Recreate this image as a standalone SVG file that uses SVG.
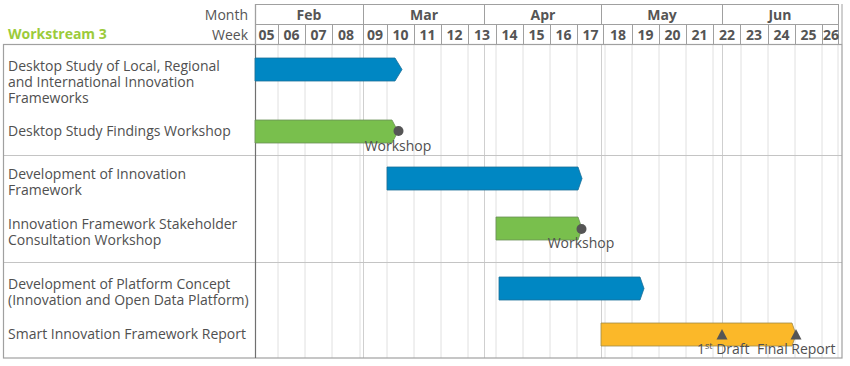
<svg xmlns="http://www.w3.org/2000/svg" width="850" height="366" viewBox="0 0 850 366">
<style>
text{font-family:"Open Sans","Noto Sans","DejaVu Sans",sans-serif;font-size:14px;fill:#505050}
.hdr{font-weight:bold;fill:#555;text-anchor:middle}
.cap{text-anchor:end;fill:#555}
.ms{text-anchor:middle;fill:#505050}
.wk{stroke:#e0e0e0;stroke-width:1}
.mo{stroke:#cfcfcf;stroke-width:1}
.hl{stroke:#a0a0a0;stroke-width:1;fill:none}
.sep{stroke:#c4c4c4;stroke-width:1.2}
.blue{fill:#0087c3;stroke:#1a6f98;stroke-width:0.8}
.green{fill:#79bf4d;stroke:#6b8f55;stroke-width:0.8}
.yellow{fill:#fbb829;stroke:#a08a4a;stroke-width:0.8}
.dot{fill:#555}
</style>
<rect width="850" height="366" fill="#fff"/>
<g id="grid">
<g class="wk">
<line x1="278" y1="44" x2="278" y2="358"/><line x1="305" y1="44" x2="305" y2="358"/><line x1="332" y1="44" x2="332" y2="358"/><line x1="360" y1="44" x2="360" y2="358"/><line x1="387" y1="44" x2="387" y2="358"/><line x1="414" y1="44" x2="414" y2="358"/><line x1="441" y1="44" x2="441" y2="358"/><line x1="468" y1="44" x2="468" y2="358"/><line x1="496" y1="44" x2="496" y2="358"/><line x1="523" y1="44" x2="523" y2="358"/><line x1="550" y1="44" x2="550" y2="358"/><line x1="577" y1="44" x2="577" y2="358"/><line x1="605" y1="44" x2="605" y2="358"/><line x1="632" y1="44" x2="632" y2="358"/><line x1="659" y1="44" x2="659" y2="358"/><line x1="686" y1="44" x2="686" y2="358"/><line x1="713" y1="44" x2="713" y2="358"/><line x1="741" y1="44" x2="741" y2="358"/><line x1="768" y1="44" x2="768" y2="358"/><line x1="795" y1="44" x2="795" y2="358"/><line x1="822" y1="44" x2="822" y2="358"/><line x1="838" y1="44" x2="838" y2="358"/>
</g>
<g class="mo">
<line x1="363.5" y1="44" x2="363.5" y2="358"/><line x1="484.5" y1="44" x2="484.5" y2="358"/><line x1="601.5" y1="44" x2="601.5" y2="358"/><line x1="722.5" y1="44" x2="722.5" y2="358"/>
</g>
<line class="sep" x1="3" y1="155.5" x2="842" y2="155.5"/>
<line class="sep" x1="3" y1="262.5" x2="842" y2="262.5"/>
<rect x="3.5" y="44.5" width="838.5" height="313.5" fill="none" stroke="#a0a0a0" stroke-width="1.2"/>
<line x1="255.5" y1="4" x2="255.5" y2="358" stroke="#707070" stroke-width="1.2"/>
</g>
<g id="header">
<rect class="hl" x="255.5" y="4.5" width="583" height="40"/>
<line class="hl" x1="255.5" y1="24.5" x2="838.5" y2="24.5"/>
<line class="hl" x1="842" y1="4" x2="842" y2="44"/>
<g class="hl">
<line x1="363.5" y1="4" x2="363.5" y2="24"/><line x1="484.5" y1="4" x2="484.5" y2="24"/><line x1="601.5" y1="4" x2="601.5" y2="24"/><line x1="722.5" y1="4" x2="722.5" y2="24"/>
<line x1="278.5" y1="24" x2="278.5" y2="44"/><line x1="305.5" y1="24" x2="305.5" y2="44"/><line x1="332.5" y1="24" x2="332.5" y2="44"/><line x1="363.5" y1="24" x2="363.5" y2="44"/><line x1="387.5" y1="24" x2="387.5" y2="44"/><line x1="414.5" y1="24" x2="414.5" y2="44"/><line x1="441.5" y1="24" x2="441.5" y2="44"/><line x1="468.5" y1="24" x2="468.5" y2="44"/><line x1="496.5" y1="24" x2="496.5" y2="44"/><line x1="523.5" y1="24" x2="523.5" y2="44"/><line x1="550.5" y1="24" x2="550.5" y2="44"/><line x1="577.5" y1="24" x2="577.5" y2="44"/><line x1="603.5" y1="24" x2="603.5" y2="44"/><line x1="632.5" y1="24" x2="632.5" y2="44"/><line x1="659.5" y1="24" x2="659.5" y2="44"/><line x1="686.5" y1="24" x2="686.5" y2="44"/><line x1="713.5" y1="24" x2="713.5" y2="44"/><line x1="740.5" y1="24" x2="740.5" y2="44"/><line x1="768.5" y1="24" x2="768.5" y2="44"/><line x1="795.5" y1="24" x2="795.5" y2="44"/><line x1="822.5" y1="24" x2="822.5" y2="44"/>
</g>
<text class="cap" x="248" y="20">Month</text>
<text class="cap" x="248" y="40">Week</text>
<text x="8" y="39" style="font-weight:bold;fill:#9ccb3b">Workstream 3</text>
<text class="hdr" x="309" y="20">Feb</text>
<text class="hdr" x="424" y="20">Mar</text>
<text class="hdr" x="543" y="20">Apr</text>
<text class="hdr" x="662" y="20">May</text>
<text class="hdr" x="780" y="20">Jun</text>
<text class="hdr" x="266.5" y="40">05</text><text class="hdr" x="291.5" y="40">06</text><text class="hdr" x="318.5" y="40">07</text><text class="hdr" x="346" y="40">08</text><text class="hdr" x="375" y="40">09</text><text class="hdr" x="400.5" y="40">10</text><text class="hdr" x="427.5" y="40">11</text><text class="hdr" x="454.5" y="40">12</text><text class="hdr" x="482" y="40">13</text><text class="hdr" x="509.5" y="40">14</text><text class="hdr" x="536.5" y="40">15</text><text class="hdr" x="563.5" y="40">16</text><text class="hdr" x="590.5" y="40">17</text><text class="hdr" x="618" y="40">18</text><text class="hdr" x="645.5" y="40">19</text><text class="hdr" x="672.5" y="40">20</text><text class="hdr" x="699.5" y="40">21</text><text class="hdr" x="727" y="40">22</text><text class="hdr" x="754" y="40">23</text><text class="hdr" x="781.5" y="40">24</text><text class="hdr" x="808.5" y="40">25</text><text class="hdr" x="831" y="40">26</text>
</g>
<g id="task1">
<text x="8" y="71">Desktop Study of Local, Regional</text>
<text x="8" y="87">and International Innovation</text>
<text x="8" y="103">Frameworks</text>
<path class="blue" d="M255,58 H395 L402,69.5 L395,81 H255 Z"/>
</g>
<g id="task2">
<text x="8" y="136">Desktop Study Findings Workshop</text>
<path class="green" d="M255,120 H392 L398,131.5 L392,143 H255 Z"/>
<circle class="dot" cx="398.5" cy="131" r="5"/>
<text class="ms" x="398" y="151">Workshop</text>
</g>
<g id="task3">
<text x="8" y="179">Development of Innovation</text>
<text x="8" y="195">Framework</text>
<path class="blue" d="M387,167 H578 L582,178.5 L578,190 H387 Z"/>
</g>
<g id="task4">
<text x="8" y="229">Innovation Framework Stakeholder</text>
<text x="8" y="245">Consultation Workshop</text>
<path class="green" d="M496,217 H578 L582,228.5 L578,240 H496 Z"/>
<circle class="dot" cx="581.5" cy="229" r="5"/>
<text class="ms" x="581" y="248">Workshop</text>
</g>
<g id="task5">
<text x="8" y="289">Development of Platform Concept</text>
<text x="8" y="305">(Innovation and Open Data Platform)</text>
<path class="blue" d="M499,277 H640 L644,288.5 L640,300 H499 Z"/>
</g>
<g id="task6">
<text x="8" y="339">Smart Innovation Framework Report</text>
<path class="yellow" d="M601,323 H792 L796,334.5 L792,346 H601 Z"/>
<path class="dot" d="M722,329 L727.5,339.5 H716.5 Z"/>
<path class="dot" d="M796,329 L801.5,339.5 H790.5 Z"/>
<text x="697" y="354">1<tspan dy="-5" style="font-size:9px">st</tspan><tspan dy="5"> Draft</tspan></text>
<text x="757" y="354">Final Report</text>
</g>
</svg>
